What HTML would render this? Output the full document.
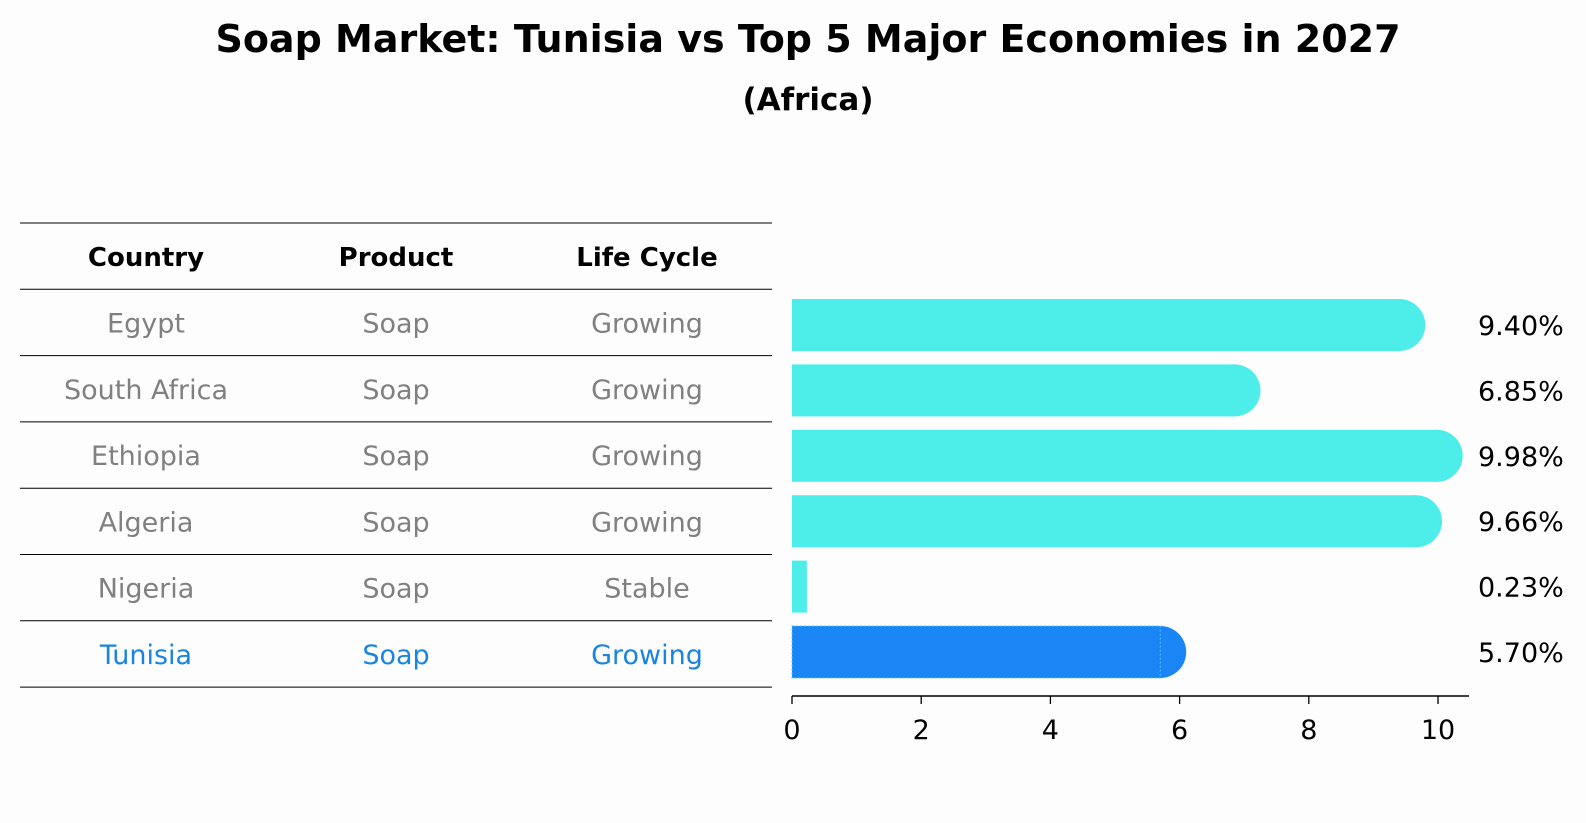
<!DOCTYPE html>
<html><head><meta charset="utf-8"><style>
body{margin:0;background:#fdfdfd;font-family:"Liberation Sans","DejaVu Sans",sans-serif;}
#wrap{position:relative;width:1586px;height:823px;overflow:hidden;}
svg text{font-family:"DejaVu Sans","Liberation Sans",sans-serif;}
</style></head><body>
<div id="wrap">
<svg id="chart" width="1586" height="823">
<text x="808" y="52" text-anchor="middle" font-size="38" font-weight="bold">Soap Market: Tunisia vs Top 5 Major Economies in 2027</text>
<text x="808" y="110" text-anchor="middle" font-size="31" font-weight="bold">(Africa)</text>
<g id="table"></g>
<g id="bars"></g>
<g id="axis"></g>
</svg>
</div>
<script>
const countries=["Egypt","South Africa","Ethiopia","Algeria","Nigeria","Tunisia"];
const products=["Soap","Soap","Soap","Soap","Soap","Soap"];
const lifeCycles=["Growing","Growing","Growing","Growing","Stable","Growing"];
const values=[9.40,6.85,9.98,9.66,0.23,5.70];
const valueLabels=["9.40%","6.85%","9.98%","9.66%","0.23%","5.70%"];
const ticks=[0,2,4,6,8,10];

const NS="http://www.w3.org/2000/svg";
function mk(tag,attrs,parent,text){const e=document.createElementNS(NS,tag);for(const k in attrs)e.setAttribute(k,attrs[k]);if(text!==undefined)e.textContent=text;parent.appendChild(e);return e;}
const x0=792,pxPer=64.6;
const X=v=>x0+v*pxPer;
const tableTop=223,tRowH=66.3;
const barTop0=299,barPitch=65.4,barH=52;
const TY=i=>tableTop+tRowH*(i+1);
const BY=i=>barTop0+i*barPitch;

const table=document.getElementById('table');
const colX=[146,396,647];
const headers=["Country","Product","Life Cycle"];
let l=mk('line',{x1:20,x2:772,y1:tableTop,y2:tableTop,stroke:'#000','stroke-width':1},table);

headers.forEach((h,j)=>{const t=mk('text',{x:colX[j],y:tableTop+tRowH/2+10,'text-anchor':'middle','font-size':26,'font-weight':'bold'},table,h);
});
countries.forEach((c,i)=>{
  const y=TY(i);
  const ln=mk('line',{x1:20,x2:772,y1:y,y2:y,stroke:'#000','stroke-width':1},table);
  
  const col=c==="Tunisia"?'#1a85e0':'#808080';
  [c,products[i],lifeCycles[i]].forEach((v,j)=>{
    const t=mk('text',{x:colX[j],y:y+tRowH/2+10,'text-anchor':'middle','font-size':27,fill:col},table,v);
    
    
  });
});
const lb=mk('line',{x1:20,x2:772,y1:TY(6),y2:TY(6),stroke:'#000','stroke-width':1},table);


const bars=document.getElementById('bars');
values.forEach((v,i)=>{
  const yt=BY(i), yc=yt+barH/2;
  const isT=countries[i]==="Tunisia";
  const col=isT?'#1a85f5':'#4deeea';
  const w=X(v)-x0;
  const g=mk('g',{},bars);
  
  
  mk('rect',{x:x0,y:yt,width:w,height:barH,fill:col},g);
  if(v>1) mk('circle',{cx:X(v),cy:yc,r:barH/2,fill:col},g);
  if(isT) mk('rect',{x:x0,y:yt,width:w,height:barH,fill:'none',stroke:'#4dc8ff','stroke-width':1,'stroke-dasharray':'2,2'},g);
  const t=mk('text',{x:1478,y:yc+10,'font-size':27},bars,valueLabels[i]);
  
  
});

const axis=document.getElementById('axis');
const ay=696;
const al=mk('line',{x1:x0,x2:1469,y1:ay,y2:ay,stroke:'#000','stroke-width':1.4},axis);

ticks.forEach(t=>{
  const tk=mk('line',{x1:X(t),x2:X(t),y1:ay,y2:ay+8,stroke:'#000','stroke-width':1.3},axis);
  
  const tl=mk('text',{x:X(t),y:739,'text-anchor':'middle','font-size':27},axis,String(t));
  
});
</script>
</body></html>
